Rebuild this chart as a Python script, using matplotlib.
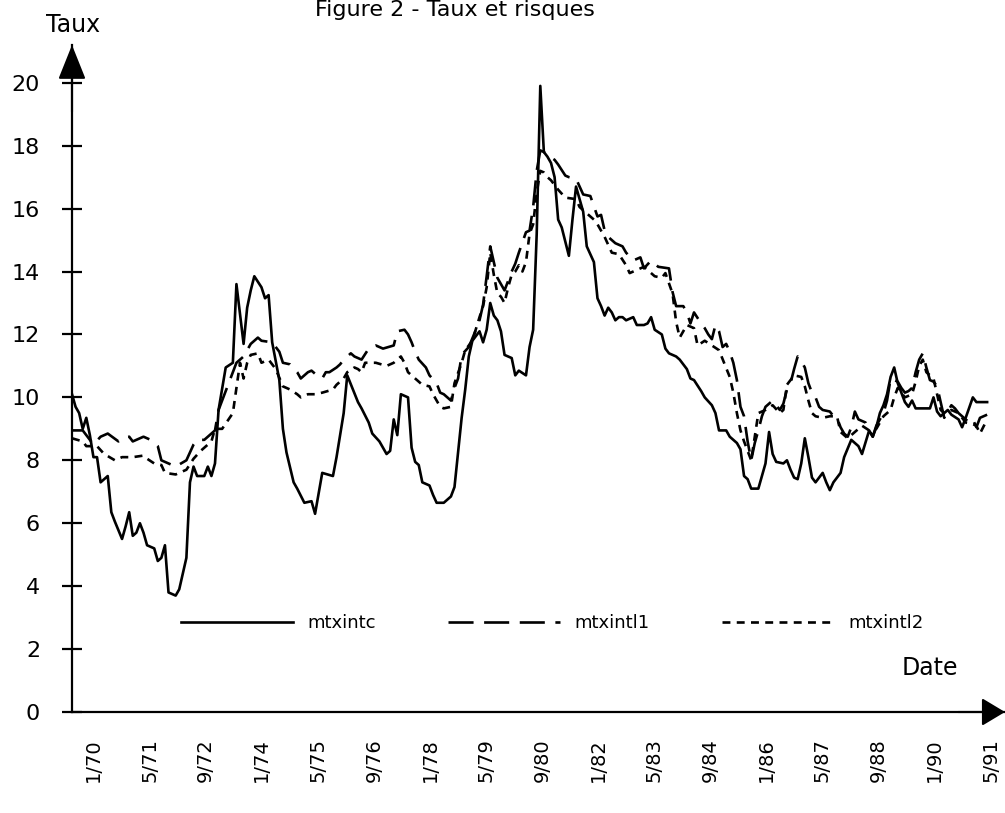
import numpy as np
import matplotlib.pyplot as plt

# Mois comptés depuis 1/70 (0 = janvier 1970)
mois_c = [0, 1, 2, 3, 4, 5, 6, 7, 8, 10, 11, 12, 14, 15, 16, 17, 18, 19, 20, 21,
          23, 24, 25, 26, 27, 29, 30, 32, 33, 34, 35, 37, 38, 39, 40, 41, 43, 45, 46, 48,
          49, 50, 51, 53, 54, 55, 56, 58, 59, 60, 62, 63, 65, 67, 68, 70, 73, 74, 76, 77,
          80, 81, 83, 84, 86, 88, 89, 90, 91, 92, 94, 95, 96, 97, 98, 100, 101, 102, 104, 106,
          107, 109, 110, 111, 112, 114, 115, 116, 117, 118, 119, 120, 121, 123, 124, 125, 127, 128, 129, 130,
          131, 132, 133, 134, 135, 136, 137, 139, 140, 141, 142, 143, 144, 146, 147, 148, 149, 150, 151, 152,
          153, 154, 155, 157, 158, 160, 161, 162, 163, 165, 166, 167, 169, 170, 172, 173, 174, 176, 177, 179,
          180, 181, 183, 184, 186, 187, 188, 189, 190, 192, 193, 194, 195, 196, 197, 199, 200, 201, 202, 203,
          204, 205, 206, 207, 208, 210, 211, 212, 213, 214, 215, 216, 218, 220, 221, 223, 224, 225, 226, 227,
          228, 229, 230, 231, 233, 234, 235, 236, 240, 241, 242, 243, 245, 246, 248, 249, 250, 252, 253, 256]
mtxintc = [10.1, 9.7, 9.5, 9.0, 9.35, 8.8, 8.1, 8.1, 7.3, 7.5, 6.35, 6.05, 5.5, 5.9, 6.35, 5.6, 5.7, 6.0, 5.7, 5.3,
           5.2, 4.8, 4.9, 5.3, 3.8, 3.7, 3.9, 4.9, 7.3, 7.8, 7.5, 7.5, 7.8, 7.5, 7.9, 9.6, 10.95, 11.1, 13.6, 11.7,
           12.85, 13.4, 13.85, 13.5, 13.15, 13.25, 11.75, 10.55, 9.0, 8.25, 7.3, 7.1, 6.65, 6.7, 6.3, 7.6, 7.5, 8.1, 9.5, 10.7,
           9.85, 9.65, 9.2, 8.85, 8.6, 8.2, 8.3, 9.3, 8.8, 10.1, 10.0, 8.4, 7.95, 7.85, 7.3, 7.2, 6.9, 6.65, 6.65, 6.85,
           7.15, 9.35, 10.25, 11.3, 11.8, 12.1, 11.75, 12.15, 13.0, 12.6, 12.45, 12.1, 11.35, 11.25, 10.7, 10.85, 10.7, 11.6, 12.15, 15.2,
           19.9, 17.8, 17.65, 17.45, 17.0, 15.65, 15.4, 14.5, 15.65, 16.7, 16.3, 15.9, 14.8, 14.3, 13.15, 12.9, 12.6, 12.85, 12.7, 12.45,
           12.55, 12.55, 12.45, 12.55, 12.3, 12.3, 12.35, 12.55, 12.15, 12.0, 11.55, 11.4, 11.3, 11.2, 10.9, 10.6, 10.55, 10.2, 10.0, 9.75,
           9.5, 8.95, 8.95, 8.75, 8.55, 8.35, 7.5, 7.4, 7.1, 7.1, 7.5, 7.9, 8.9, 8.2, 7.95, 7.9, 8.0, 7.7, 7.45, 7.4,
           7.9, 8.7, 8.1, 7.45, 7.3, 7.6, 7.3, 7.05, 7.3, 7.45, 7.6, 8.1, 8.65, 8.45, 8.2, 8.95, 8.75, 9.05, 9.5, 9.75,
           10.1, 10.65, 10.95, 10.45, 9.85, 9.7, 9.9, 9.65, 9.65, 10.0, 9.55, 9.4, 9.6, 9.45, 9.3, 9.05, 9.35, 10.0, 9.85, 9.85]

mois_l1 = [0, 3, 6, 8, 10, 13, 14, 16, 17, 20, 22, 24, 25, 27, 29, 32, 34, 35, 37, 38,
           40, 41, 44, 46, 48, 50, 52, 53, 56, 58, 59, 61, 63, 64, 66, 67, 69, 70, 71, 72,
           74, 75, 76, 78, 79, 81, 83, 85, 87, 90, 91, 93, 94, 95, 96, 97, 99, 100, 102, 103,
           104, 106, 107, 108, 109, 111, 113, 114, 115, 116, 117, 118, 119, 120, 121, 123, 124, 125, 127, 128,
           129, 130, 131, 132, 133, 135, 136, 138, 139, 141, 143, 145, 147, 148, 149, 150, 152, 154, 155, 157,
           159, 160, 162, 164, 167, 168, 169, 171, 172, 173, 174, 176, 177, 178, 179, 180, 181, 182, 183, 184,
           185, 186, 187, 188, 189, 190, 191, 192, 193, 194, 195, 196, 198, 199, 200, 201, 202, 203, 204, 205,
           206, 207, 208, 209, 210, 212, 213, 214, 215, 216, 217, 218, 219, 220, 222, 223, 224, 225, 227, 228,
           229, 231, 232, 233, 234, 235, 236, 237, 238, 239, 240, 241, 242, 243, 244, 246, 247, 248, 250, 251,
           252, 253, 254, 256]
mtxintl1 = [8.95, 8.95, 8.5, 8.75, 8.85, 8.6, 8.7, 8.75, 8.6, 8.75, 8.65, 8.45, 8.0, 7.9, 7.8, 8.0, 8.5, 8.65, 8.65, 8.75,
            8.95, 9.6, 10.5, 11.1, 11.3, 11.7, 11.9, 11.8, 11.75, 11.45, 11.1, 11.05, 10.8, 10.6, 10.8, 10.85, 10.65, 10.6, 10.8, 10.8,
            10.95, 11.05, 11.2, 11.4, 11.3, 11.2, 11.55, 11.65, 11.55, 11.65, 12.1, 12.15, 12.0, 11.75, 11.45, 11.2, 10.95, 10.7, 10.45, 10.15,
            10.1, 9.9, 10.3, 10.6, 11.35, 11.6, 12.15, 12.45, 12.95, 13.85, 14.8, 14.3, 13.8, 13.6, 13.4, 14.0, 14.25, 14.6, 15.25, 15.3,
            16.05, 17.2, 17.85, 17.8, 17.7, 17.55, 17.4, 17.05, 17.0, 16.95, 16.45, 16.4, 15.75, 15.8, 15.3, 15.1, 14.9, 14.8, 14.6, 14.35,
            14.45, 14.1, 14.35, 14.15, 14.1, 13.35, 12.9, 12.9, 12.7, 12.35, 12.7, 12.35, 12.2, 12.0, 11.85, 12.3, 12.1, 11.6, 11.7, 11.45,
            11.1, 10.55, 9.7, 9.4, 8.6, 8.0, 8.55, 8.95, 9.4, 9.7, 9.8, 9.9, 9.6, 9.8, 10.25, 10.45, 10.9, 11.3, 11.15, 10.95,
            10.45, 10.15, 10.0, 9.7, 9.6, 9.55, 9.4, 9.35, 9.05, 8.85, 8.75, 9.05, 9.55, 9.3, 9.2, 8.95, 8.75, 9.1, 9.5, 9.9,
            10.6, 10.5, 10.3, 10.15, 10.2, 10.3, 10.8, 11.2, 11.4, 10.95, 10.55, 10.5, 10.35, 9.85, 9.35, 9.75, 9.65, 9.5, 9.3, 9.2,
            9.3, 9.05, 9.35, 9.45]

mois_l2 = [0, 3, 4, 7, 9, 12, 14, 17, 20, 21, 23, 25, 26, 29, 32, 34, 36, 39, 40, 42,
           45, 46, 47, 48, 49, 50, 52, 53, 55, 57, 59, 61, 63, 64, 66, 68, 70, 73, 74, 76,
           77, 79, 80, 81, 82, 85, 88, 90, 92, 93, 94, 96, 98, 100, 101, 103, 104, 106, 107, 109,
           110, 112, 114, 115, 116, 117, 118, 119, 120, 121, 122, 123, 124, 125, 126, 127, 128, 129, 130, 131,
           132, 133, 134, 136, 138, 141, 142, 144, 146, 147, 149, 151, 153, 155, 156, 158, 160, 163, 165, 166,
           168, 169, 170, 172, 174, 175, 177, 181, 184, 185, 186, 187, 188, 189, 190, 192, 194, 196, 198, 199,
           200, 202, 204, 205, 206, 207, 208, 210, 212, 214, 215, 217, 219, 221, 223, 225, 227, 229, 230, 231,
           233, 235, 236, 237, 238, 239, 241, 243, 244, 246, 248, 250, 252, 253, 254, 256]
mtxintl2 = [8.7, 8.6, 8.45, 8.45, 8.2, 8.0, 8.1, 8.1, 8.15, 8.05, 7.9, 7.85, 7.6, 7.55, 7.7, 8.05, 8.3, 8.6, 9.0, 9.0,
            9.5, 10.3, 11.1, 10.6, 11.1, 11.35, 11.4, 11.1, 11.2, 10.9, 10.35, 10.25, 10.1, 10.0, 10.1, 10.1, 10.15, 10.25, 10.4, 10.6,
            10.8, 10.95, 10.9, 10.8, 11.1, 11.1, 11.0, 11.1, 11.3, 11.1, 10.8, 10.6, 10.4, 10.35, 10.1, 9.7, 9.65, 9.7, 10.45, 11.1,
            11.5, 11.8, 12.55, 12.9, 13.5, 14.6, 13.9, 13.3, 13.2, 13.0, 13.5, 13.9, 14.0, 14.2, 14.0, 14.3, 15.2, 15.5, 16.5, 17.2,
            17.15, 17.0, 16.9, 16.6, 16.35, 16.3, 16.05, 15.85, 15.65, 15.5, 15.1, 14.6, 14.55, 14.2, 13.95, 14.05, 14.15, 13.85, 13.8, 13.95,
            13.3, 12.4, 11.9, 12.3, 12.2, 11.65, 11.8, 11.5, 10.65, 10.15, 9.5, 8.95, 8.6, 8.3, 8.0, 9.5, 9.6, 9.75, 9.5, 9.6,
            10.4, 10.7, 10.65, 10.35, 9.9, 9.5, 9.4, 9.35, 9.4, 9.4, 8.9, 8.7, 8.9, 9.1, 8.95, 9.0, 9.4, 9.6, 10.0, 10.3,
            10.0, 10.1, 10.5, 11.0, 11.2, 10.8, 10.6, 9.6, 9.5, 9.6, 9.5, 9.2, 9.15, 9.1, 8.85, 9.3]

etiquettes = ['1/70', '5/71', '9/72', '1/74', '5/75', '9/76', '1/78', '5/79', '9/80',
              '1/82', '5/83', '9/84', '1/86', '5/87', '9/88', '1/90', '5/91']

plt.rcParams['font.family'] = ['DejaVu Sans']

fig = plt.figure(figsize=(10.05, 8.13), dpi=100)
ax = fig.add_axes([72 / 1005, 101 / 813, 933 / 1005, 667 / 813])

ax.plot(mois_c, mtxintc, color='black', lw=1.9, label='mtxintc')
ax.plot(mois_l1, mtxintl1, color='black', lw=1.9, linestyle=(0, (9.5, 4)), label='mtxintl1')
ax.plot(mois_l2, mtxintl2, color='black', lw=1.9, linestyle=(0, (3, 2.4)), label='mtxintl2')

ax.set_xlim(0, 261)
ax.set_ylim(0, 21.2)

# axes avec flèches
for s in ['top', 'right']:
    ax.spines[s].set_visible(False)
ax.spines['left'].set_linewidth(1.6)
ax.spines['bottom'].set_linewidth(1.6)
ax.annotate('', xy=(0, 1), xycoords='axes fraction', xytext=(0, 0.9),
            arrowprops=dict(arrowstyle='-|>,head_length=1.5,head_width=0.6', mutation_scale=14.4,
                            color='black', lw=1.5, shrinkA=0, shrinkB=0))
ax.annotate('', xy=(1, 0), xycoords='axes fraction', xytext=(0.95, 0),
            arrowprops=dict(arrowstyle='-|>,head_length=1.0,head_width=0.6', mutation_scale=14.4,
                            color='black', lw=1.5, shrinkA=0, shrinkB=0))

ax.set_yticks(range(0, 21, 2))
ax.tick_params(axis='y', direction='inout', length=14, width=1.6, pad=16, labelsize=16)
ax.set_xticks(np.linspace(6, 257, len(etiquettes)))
ax.set_xticklabels(etiquettes, rotation=90)
ax.tick_params(axis='x', length=0, pad=19, labelsize=14)

ax.legend(loc='center', bbox_to_anchor=(0.515, 0.133), ncol=3, frameon=False, fontsize=13,
          handlelength=6.2, handletextpad=0.8, columnspacing=4.0)

fig.text(73 / 1005, 1 - 25 / 813, 'Taux', ha='center', va='center', fontsize=17)
fig.text(930 / 1005, 1 - 668 / 813, 'Date', ha='center', va='center', fontsize=17)
# titre coupé en haut comme dans l'original
fig.text(455 / 1005, 1 - 16 / 813, 'Figure 2 - Taux et risques', ha='center', va='baseline', fontsize=16)

fig.savefig('out.png', dpi=100)
